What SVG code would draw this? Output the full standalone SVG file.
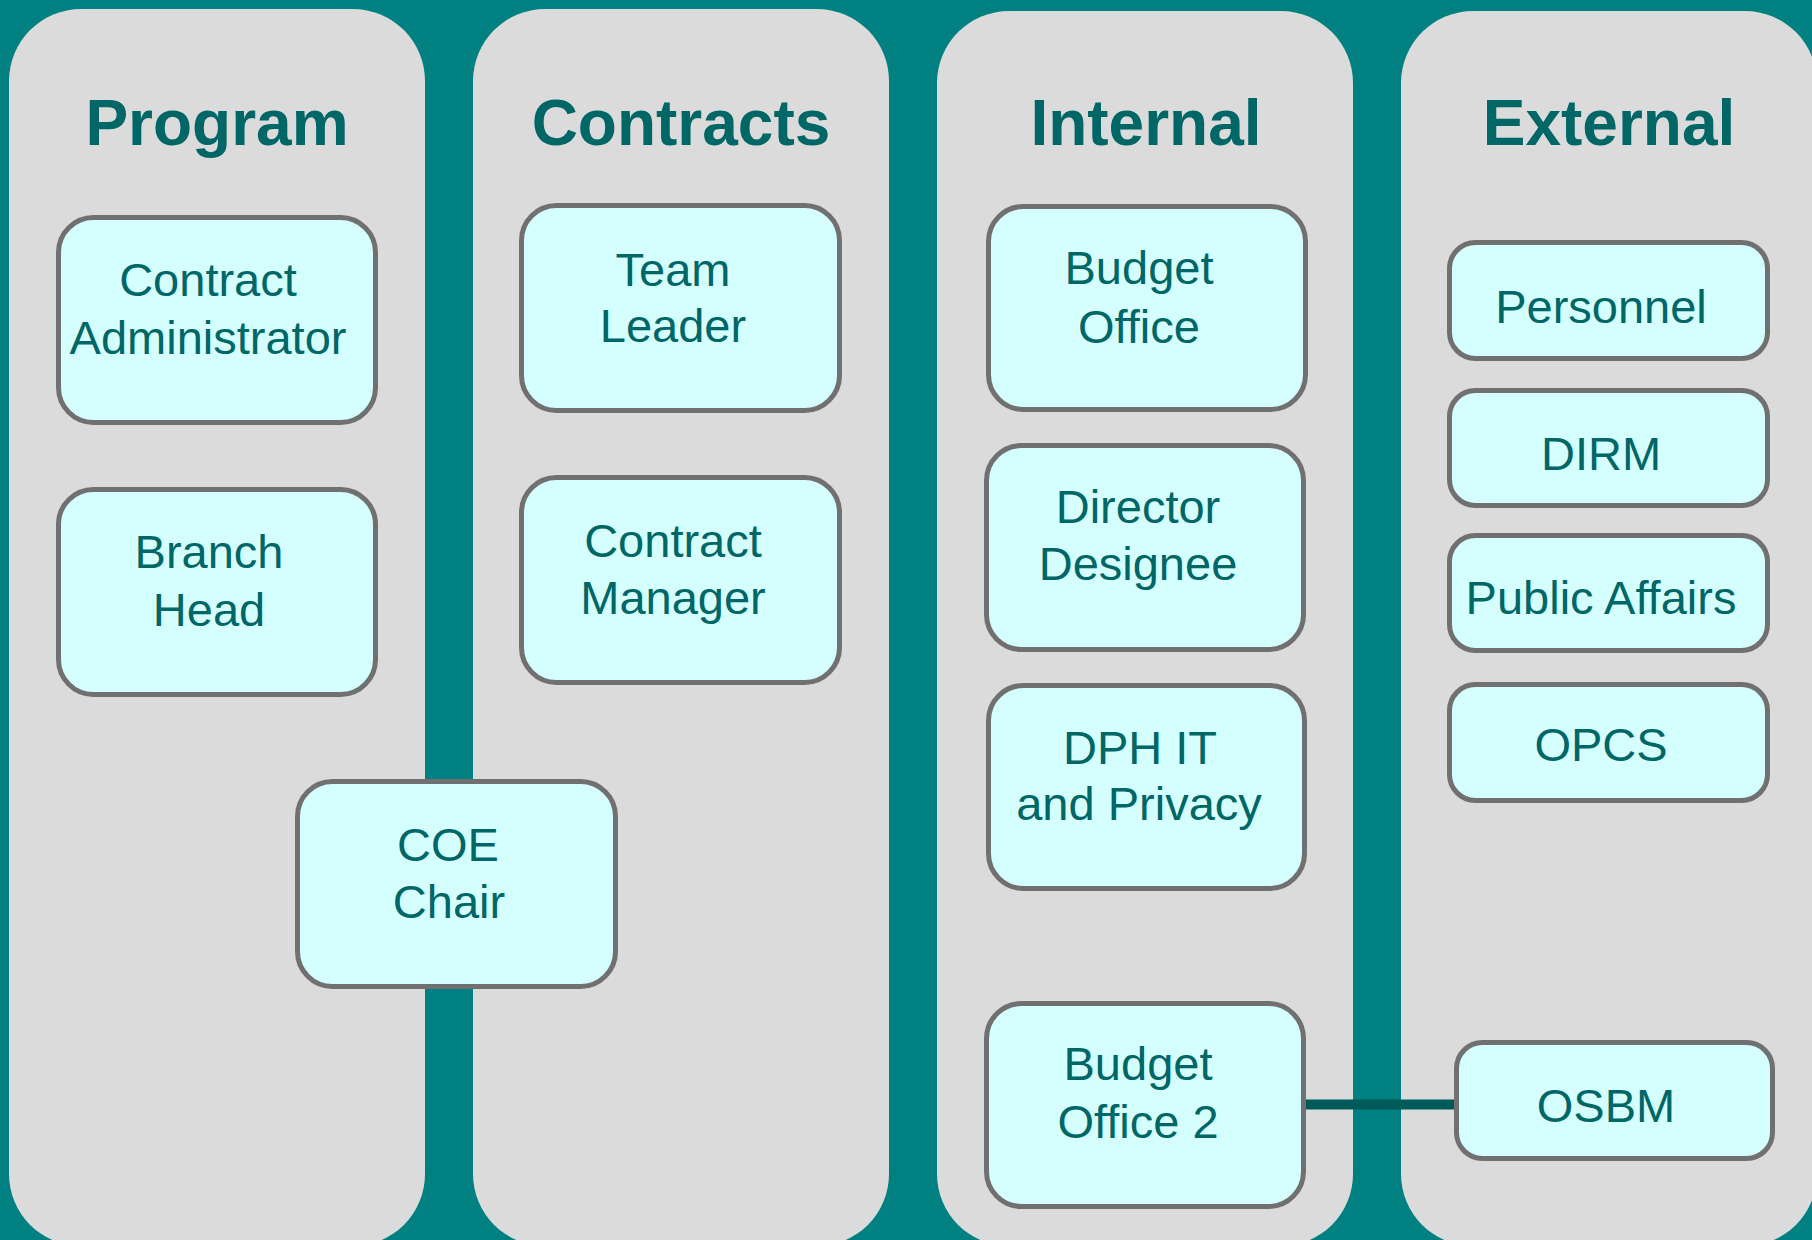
<svg xmlns="http://www.w3.org/2000/svg" width="1812" height="1240" viewBox="0 0 1812 1240">
<style>
.lane{fill:#DBDBDB}
.title{font-family:"Liberation Sans",Arial,sans-serif;font-weight:bold;font-size:64px;fill:#006666;text-anchor:middle}
.box{fill:#D5FFFF;stroke:#707070;stroke-width:5}
.lbl{font-family:"Liberation Sans",Arial,sans-serif;font-size:47px;fill:#006666;text-anchor:middle}
.conn{stroke:#005A5A;stroke-width:10;fill:none}
</style>
<rect x="0" y="0" width="1812" height="1240" fill="#008080"/>
<g id="lanes">
<g id="lane-program"><rect class="lane" x="9" y="9" width="416" height="1237" rx="72"/><text class="title" x="217" y="145">Program</text></g>
<g id="lane-contracts"><rect class="lane" x="473" y="9" width="416" height="1237" rx="72"/><text class="title" x="681" y="145">Contracts</text></g>
<g id="lane-internal"><rect class="lane" x="937" y="11" width="416" height="1235" rx="72"/><text class="title" x="1146" y="145">Internal</text></g>
<g id="lane-external"><rect class="lane" x="1401" y="11" width="416" height="1235" rx="72"/><text class="title" x="1609" y="145">External</text></g>
</g>
<g id="connectors">
<line class="conn" x1="1300" y1="1104.5" x2="1460" y2="1104.5"/>
</g>
<g id="contract-administrator"><rect class="box" x="58.5" y="217.5" width="317" height="205" rx="35"/><text class="lbl" x="208" y="296">Contract</text><text class="lbl" x="208" y="354">Administrator</text></g>
<g id="branch-head"><rect class="box" x="58.5" y="489.5" width="317" height="205" rx="35"/><text class="lbl" x="209" y="568">Branch</text><text class="lbl" x="209" y="626">Head</text></g>
<g id="team-leader"><rect class="box" x="521.5" y="205.5" width="318" height="205" rx="35"/><text class="lbl" x="673" y="286">Team</text><text class="lbl" x="673" y="342">Leader</text></g>
<g id="contract-manager"><rect class="box" x="521.5" y="477.5" width="318" height="205" rx="35"/><text class="lbl" x="673" y="557">Contract</text><text class="lbl" x="673" y="614">Manager</text></g>
<g id="coe-chair"><rect class="box" x="297.5" y="781.5" width="318" height="205" rx="35"/><text class="lbl" x="448" y="861">COE</text><text class="lbl" x="449" y="918">Chair</text></g>
<g id="budget-office"><rect class="box" x="988.5" y="206.5" width="317" height="203" rx="35"/><text class="lbl" x="1139" y="284">Budget</text><text class="lbl" x="1139" y="343">Office</text></g>
<g id="director-designee"><rect class="box" x="986.5" y="445.5" width="317" height="204" rx="35"/><text class="lbl" x="1138" y="523">Director</text><text class="lbl" x="1138" y="580">Designee</text></g>
<g id="dph-it-privacy"><rect class="box" x="988.5" y="685.5" width="316" height="203" rx="35"/><text class="lbl" x="1140" y="764">DPH IT</text><text class="lbl" x="1139" y="820">and Privacy</text></g>
<g id="budget-office-2"><rect class="box" x="986.5" y="1003.5" width="317" height="203" rx="35"/><text class="lbl" x="1138" y="1080">Budget</text><text class="lbl" x="1138" y="1138">Office 2</text></g>
<g id="personnel"><rect class="box" x="1449.5" y="242.5" width="318" height="116" rx="26"/><text class="lbl" x="1601" y="323">Personnel</text></g>
<g id="dirm"><rect class="box" x="1449.5" y="390.5" width="318" height="115" rx="26"/><text class="lbl" x="1601" y="470">DIRM</text></g>
<g id="public-affairs"><rect class="box" x="1449.5" y="535.5" width="318" height="115" rx="26"/><text class="lbl" x="1601" y="614">Public Affairs</text></g>
<g id="opcs"><rect class="box" x="1449.5" y="684.5" width="318" height="116" rx="26"/><text class="lbl" x="1601" y="761">OPCS</text></g>
<g id="osbm"><rect class="box" x="1456.5" y="1042.5" width="316" height="116" rx="26"/><text class="lbl" x="1606" y="1122">OSBM</text></g>
</svg>
